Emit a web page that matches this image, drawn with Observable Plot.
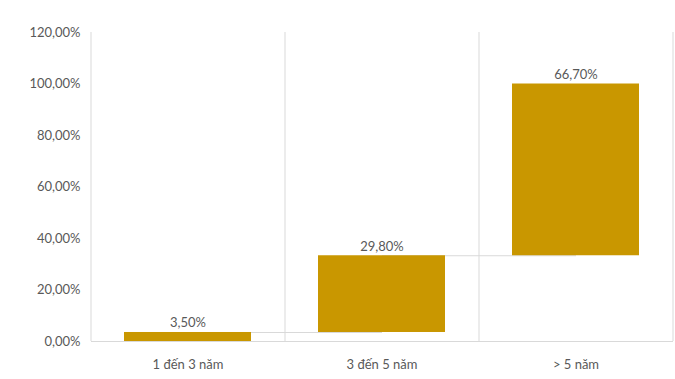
<!DOCTYPE html>
<html>
<head>
<meta charset="utf-8">
<script src="https://cdn.jsdelivr.net/npm/d3@7"></script>
<script src="https://cdn.jsdelivr.net/npm/@observablehq/plot@0.6"></script>
<style>
  html, body { margin: 0; padding: 0; background: #fff; }
  #chart svg { display: block; }
</style>
</head>
<body>
<div id="chart"></div>
<script>
const categories = ["1 đến 3 năm", "3 đến 5 năm", "> 5 năm"];
const values = [3.5, 29.8, 66.7];
const yTicks = [0, 20, 40, 60, 80, 100, 120];

const ends = d3.cumsum(values);
const rows = categories.map((c, i) => ({
  cat: c,
  value: values[i],
  start: i === 0 ? 0 : ends[i - 1],
  end: ends[i]
}));
const links = rows.slice(0, -1).map((r, i) => ({
  from: r.cat, to: rows[i + 1].cat, y: r.end
}));

const fmt = v => v.toFixed(2).replace(".", ",") + "%";
const grid = "#d9d9d9";
const txt = "#595959";
const half = 97;

const chart = Plot.plot({
  width: 675,
  height: 379,
  marginLeft: 91,
  marginRight: 2,
  marginTop: 32,
  marginBottom: 38,
  style: { fontFamily: "Lato, 'Open Sans', sans-serif", fontSize: "13px", color: txt, background: "#fff" },
  x: { domain: categories, paddingInner: 0.345, paddingOuter: 0.1725, label: null, tickSize: 0, tickPadding: 18 },
  y: { domain: [0, 120], ticks: yTicks, tickFormat: fmt, label: null, tickSize: 0, tickPadding: 11 },
  marks: [
    Plot.ruleX(categories, { x: d => d, y1: 0, y2: 120, dx: half, stroke: grid, strokeWidth: 1 }),
    Plot.ruleX([categories[0]], { x: d => d, y1: 0, y2: 120, dx: -half, stroke: grid, strokeWidth: 1 }),
    Plot.ruleY([0], { stroke: grid, strokeWidth: 1 }),
    Plot.link(links, { x1: "from", x2: "to", y1: "y", y2: "y", stroke: grid, strokeWidth: 1 }),
    Plot.barY(rows, { x: "cat", y1: "start", y2: "end", fill: "#C99700" }),
    Plot.text(rows, { x: "cat", y: "end", text: d => fmt(d.value), lineAnchor: "bottom", dy: -5, fill: txt, fontSize: 13 })
  ]
});
document.getElementById("chart").appendChild(chart);
</script>
</body>
</html>
